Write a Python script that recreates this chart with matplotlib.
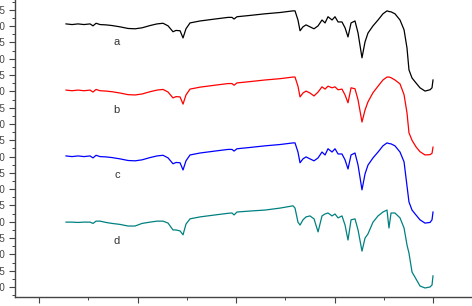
import matplotlib
matplotlib.use("Agg")
import matplotlib.pyplot as plt
from matplotlib.ticker import MultipleLocator, AutoMinorLocator, FixedLocator

# FTIR spectra, wavenumber (cm-1)
wavenumber = [4126, 4065, 4004, 3943, 3882, 3852, 3821, 3781, 3720, 3659,
              3578, 3496, 3425, 3354, 3273, 3202, 3141, 3090, 3040, 3009,
              2968, 2938, 2908, 2867, 2765, 2613, 2481, 2441, 2420, 2390,
              2258, 2105, 1953, 1821, 1801, 1771, 1750, 1720, 1689, 1649,
              1608, 1567, 1527, 1496, 1466, 1425, 1395, 1364, 1324, 1293,
              1263, 1232, 1192, 1161, 1121, 1090, 1060, 1009, 958, 908,
              867, 847, 826, 786, 735, 694, 664, 644, 613, 573,
              532, 481, 430, 410, 400]

trans_a = [90.7, 90.5, 90.7, 90.5, 90.7, 90.1, 90.9, 90.5, 90.4, 90.2,
           89.8, 89.3, 89.2, 89.5, 90.2, 90.7, 90.9, 90.1, 88.3, 88.7,
           88.6, 86.4, 89.2, 91.0, 91.6, 92.2, 92.7, 92.7, 92.2, 92.9,
           93.3, 93.8, 94.2, 94.7, 94.7, 91.9, 88.6, 89.8, 90.4, 89.8,
           89.2, 90.1, 91.9, 91.0, 92.9, 91.9, 92.9, 91.3, 91.3, 89.5,
           86.7, 91.0, 91.6, 87.9, 80.3, 85.2, 87.9, 90.1, 91.9, 93.8,
           94.7, 94.5, 94.4, 93.8, 91.9, 88.9, 83.3, 76.6, 74.1, 72.6,
           71.1, 70.1, 70.5, 71.1, 73.5]

trans_b = [70.4, 70.2, 70.4, 70.2, 70.4, 69.8, 70.6, 70.2, 70.1, 69.9,
           69.5, 69.0, 68.9, 69.2, 69.9, 70.4, 70.6, 69.8, 68.0, 68.4,
           68.3, 66.1, 68.9, 70.7, 71.3, 71.9, 72.4, 72.4, 71.9, 72.6,
           73.0, 73.5, 73.9, 74.4, 74.4, 71.6, 68.3, 69.5, 70.1, 69.5,
           68.6, 69.8, 71.4, 70.7, 71.6, 71.1, 71.4, 70.5, 70.7, 68.9,
           66.5, 71.1, 70.8, 67.4, 60.6, 64.3, 66.8, 69.6, 71.6, 73.5,
           74.4, 74.4, 74.2, 73.5, 72.3, 69.0, 63.4, 57.3, 55.0, 53.0,
           51.5, 50.5, 50.6, 51.0, 52.9]

trans_c = [50.2, 50.0, 50.2, 50.0, 50.2, 49.6, 50.4, 50.0, 49.9, 49.7,
           49.3, 48.8, 48.7, 49.0, 49.7, 50.2, 50.4, 49.6, 47.8, 48.2,
           48.1, 45.9, 48.7, 50.5, 51.1, 51.7, 52.2, 52.2, 51.7, 52.4,
           52.8, 53.3, 53.7, 54.2, 54.2, 51.4, 48.1, 49.3, 49.9, 49.3,
           48.7, 49.6, 51.4, 50.5, 52.4, 51.4, 52.4, 50.8, 50.8, 49.0,
           46.2, 50.5, 51.1, 47.4, 39.8, 44.7, 47.4, 49.6, 51.4, 53.3,
           54.2, 54.0, 53.9, 53.3, 51.4, 48.4, 41.0, 36.1, 33.6, 32.1,
           30.6, 29.6, 29.8, 30.6, 33.0]

trans_d = [29.9, 29.9, 29.8, 29.9, 29.9, 29.5, 30.2, 30.2, 29.8, 29.5,
           29.2, 28.7, 28.7, 29.5, 29.9, 30.2, 30.2, 29.6, 27.5, 27.5,
           27.2, 26.0, 29.3, 30.9, 31.5, 32.1, 32.6, 32.7, 32.1, 33.0,
           33.3, 33.6, 34.2, 34.9, 34.2, 29.9, 29.0, 30.6, 31.5, 31.8,
           30.9, 26.9, 31.8, 32.4, 32.7, 31.8, 32.4, 31.2, 31.8, 29.0,
           24.4, 30.6, 30.9, 27.5, 21.0, 25.0, 26.3, 29.9, 31.8, 33.0,
           33.6, 28.1, 32.7, 32.7, 31.2, 28.1, 22.9, 20.4, 14.6, 12.5,
           10.3, 9.7, 10.0, 10.6, 13.4]

series = [("a", trans_a, "black"), ("b", trans_b, "#ff0000"),
          ("c", trans_c, "#0000ff"), ("d", trans_d, "#008080")]
label_y = [85.2, 64.3, 44.4, 24.1]

plt.rcParams["font.family"] = ["Liberation Sans", "DejaVu Sans"]

fig = plt.figure(figsize=(4.72, 3.06), dpi=100)
ax = fig.add_axes([15 / 472, 9 / 306, 457 / 472, 307 / 306])

for (name, vals, col), ly in zip(series, label_y):
    ax.plot(wavenumber, vals, color=col, lw=0.9)
    ax.text(3610, ly, name, color="#333333", fontsize=8, ha="center", va="center")

ax.set_xlim(4644, 4)
ax.set_ylim(6.93, 101.1)

ax.xaxis.set_major_locator(FixedLocator([400, 1400, 2400, 3400, 4400]))
ax.xaxis.set_minor_locator(FixedLocator([900, 1900, 2900, 3900]))
ax.yaxis.set_major_locator(MultipleLocator(5))
ax.yaxis.set_minor_locator(AutoMinorLocator(2))

ax.tick_params(axis="both", which="major", direction="out", length=4.5,
               width=0.8, color="#444444", labelsize=7, labelcolor="#444444", pad=2.5)
ax.tick_params(axis="both", which="minor", direction="out", length=2.2,
               width=0.7, color="#444444")
ax.tick_params(axis="x", labelbottom=False)

for s in ["top", "right"]:
    ax.spines[s].set_visible(False)
for s in ["left", "bottom"]:
    ax.spines[s].set_color("#444444")
    ax.spines[s].set_linewidth(1.0)

fig.savefig("out.png", dpi=100)
